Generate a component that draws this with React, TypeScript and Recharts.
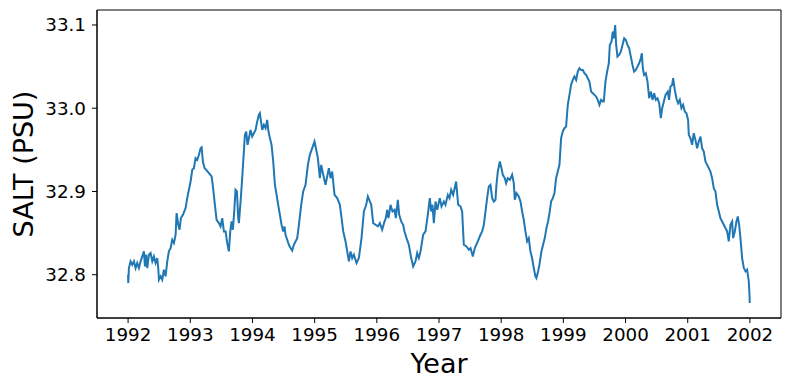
import { LineChart, Line, XAxis, YAxis, ReferenceArea } from "recharts";

// decimal year of each sample
const years = [
  1992.0, 1992.003, 1992.013, 1992.04, 1992.067, 1992.094, 1992.121, 1992.147, 1992.174, 1992.201,
  1992.228, 1992.255, 1992.271, 1992.292, 1992.308, 1992.335, 1992.362, 1992.389, 1992.415, 1992.442,
  1992.469, 1992.485, 1992.496, 1992.523, 1992.549, 1992.576, 1992.603, 1992.63, 1992.656, 1992.683,
  1992.71, 1992.737, 1992.764, 1992.78, 1992.807, 1992.828, 1992.849, 1992.882, 1992.924, 1992.951,
  1992.978, 1993.005, 1993.032, 1993.058, 1993.085, 1993.112, 1993.139, 1993.166, 1993.182, 1993.203,
  1993.23, 1993.257, 1993.3, 1993.343, 1993.364, 1993.396, 1993.423, 1993.46, 1993.487, 1993.514,
  1993.541, 1993.568, 1993.594, 1993.621, 1993.643, 1993.664, 1993.685, 1993.707, 1993.728, 1993.75,
  1993.771, 1993.782, 1993.809, 1993.835, 1993.862, 1993.878, 1993.9, 1993.921, 1993.943, 1993.969,
  1993.996, 1994.023, 1994.05, 1994.077, 1994.103, 1994.119, 1994.141, 1994.157, 1994.184, 1994.211,
  1994.237, 1994.254, 1994.275, 1994.307, 1994.334, 1994.361, 1994.388, 1994.414, 1994.441, 1994.468,
  1994.495, 1994.516, 1994.532, 1994.559, 1994.586, 1994.613, 1994.639, 1994.666, 1994.72, 1994.747,
  1994.784, 1994.816, 1994.854, 1994.891, 1994.923, 1994.961, 1994.998, 1995.031, 1995.052, 1995.084,
  1995.106, 1995.138, 1995.175, 1995.229, 1995.256, 1995.282, 1995.32, 1995.363, 1995.406, 1995.433,
  1995.46, 1995.497, 1995.524, 1995.551, 1995.577, 1995.604, 1995.631, 1995.674, 1995.711, 1995.754,
  1995.792, 1995.829, 1995.856, 1995.888, 1995.91, 1995.942, 1995.979, 1996.017, 1996.049, 1996.086,
  1996.124, 1996.145, 1996.167, 1996.188, 1996.22, 1996.252, 1996.285, 1996.306, 1996.338, 1996.36,
  1996.392, 1996.424, 1996.445, 1996.478, 1996.515, 1996.553, 1996.585, 1996.622, 1996.649, 1996.676,
  1996.703, 1996.745, 1996.783, 1996.82, 1996.852, 1996.874, 1996.895, 1996.917, 1996.944, 1996.971,
  1997.013, 1997.04, 1997.078, 1997.104, 1997.142, 1997.169, 1997.196, 1997.228, 1997.276, 1997.308,
  1997.346, 1997.372, 1997.399, 1997.442, 1997.48, 1997.507, 1997.544, 1997.576, 1997.624, 1997.667,
  1997.694, 1997.721, 1997.748, 1997.774, 1997.801, 1997.828, 1997.855, 1997.882, 1997.908, 1997.924,
  1997.946, 1997.978, 1998.005, 1998.026, 1998.058, 1998.08, 1998.106, 1998.139, 1998.176, 1998.203,
  1998.219, 1998.246, 1998.283, 1998.31, 1998.337, 1998.363, 1998.39, 1998.417, 1998.444, 1998.47,
  1998.497, 1998.524, 1998.551, 1998.567, 1998.594, 1998.615, 1998.647, 1998.674, 1998.701, 1998.728,
  1998.754, 1998.781, 1998.803, 1998.83, 1998.857, 1998.883, 1998.91, 1998.937, 1998.964, 1998.99,
  1999.017, 1999.044, 1999.071, 1999.098, 1999.124, 1999.151, 1999.178, 1999.205, 1999.232, 1999.258,
  1999.285, 1999.312, 1999.339, 1999.366, 1999.392, 1999.419, 1999.446, 1999.473, 1999.5, 1999.527,
  1999.553, 1999.58, 1999.607, 1999.634, 1999.65, 1999.677, 1999.704, 1999.731, 1999.747, 1999.774,
  1999.795, 1999.811, 1999.833, 1999.849, 1999.87, 1999.897, 1999.924, 1999.951, 1999.978, 2000.005,
  2000.031, 2000.058, 2000.085, 2000.112, 2000.138, 2000.165, 2000.192, 2000.219, 2000.246, 2000.262,
  2000.278, 2000.299, 2000.326, 2000.353, 2000.38, 2000.407, 2000.434, 2000.46, 2000.487, 2000.514,
  2000.541, 2000.568, 2000.589, 2000.616, 2000.643, 2000.679, 2000.7, 2000.722, 2000.749, 2000.765,
  2000.792, 2000.818, 2000.845, 2000.872, 2000.899, 2000.926, 2000.953, 2000.979, 2001.006, 2001.017,
  2001.044, 2001.071, 2001.097, 2001.124, 2001.151, 2001.178, 2001.205, 2001.231, 2001.258, 2001.285,
  2001.312, 2001.339, 2001.365, 2001.392, 2001.419, 2001.446, 2001.473, 2001.5, 2001.526, 2001.553,
  2001.58, 2001.607, 2001.634, 2001.66, 2001.687, 2001.714, 2001.73, 2001.757, 2001.784, 2001.805,
  2001.827, 2001.848, 2001.875, 2001.902, 2001.929, 2001.955, 2001.982, 2001.993, 2001.998,
];

// salinity in PSU at each of those dates
const salt = [
  32.8, 32.79, 32.808, 32.816, 32.812, 32.816, 32.808, 32.814, 32.808, 32.816,
  32.822, 32.828, 32.81, 32.824, 32.808, 32.824, 32.826, 32.816, 32.822, 32.814,
  32.82, 32.808, 32.794, 32.798, 32.794, 32.806, 32.798, 32.816, 32.828, 32.832,
  32.842, 32.838, 32.848, 32.874, 32.86, 32.854, 32.868, 32.872, 32.88, 32.892,
  32.902, 32.912, 32.926, 32.928, 32.94, 32.938, 32.944, 32.952, 32.953, 32.936,
  32.928, 32.926, 32.922, 32.918, 32.906, 32.884, 32.866, 32.862, 32.858, 32.868,
  32.852, 32.852, 32.838, 32.828, 32.852, 32.864, 32.854, 32.876, 32.902, 32.9,
  32.868, 32.862, 32.888, 32.916, 32.948, 32.968, 32.972, 32.956, 32.964, 32.974,
  32.966, 32.97, 32.974, 32.984, 32.992, 32.994, 32.982, 32.974, 32.98, 32.976,
  32.986, 32.974, 32.966, 32.956, 32.936, 32.908, 32.896, 32.884, 32.872, 32.86,
  32.852, 32.858, 32.848, 32.842, 32.836, 32.832, 32.829, 32.836, 32.844, 32.86,
  32.884, 32.9, 32.908, 32.932, 32.944, 32.952, 32.96, 32.948, 32.94, 32.916,
  32.932, 32.92, 32.908, 32.928, 32.916, 32.924, 32.896, 32.892, 32.884, 32.868,
  32.852, 32.84, 32.828, 32.816, 32.828, 32.82, 32.824, 32.814, 32.82, 32.844,
  32.876, 32.884, 32.894, 32.888, 32.884, 32.862, 32.86, 32.858, 32.862, 32.854,
  32.864, 32.868, 32.878, 32.868, 32.884, 32.876, 32.878, 32.868, 32.89, 32.872,
  32.864, 32.86, 32.852, 32.844, 32.836, 32.82, 32.81, 32.816, 32.826, 32.82,
  32.828, 32.848, 32.852, 32.872, 32.892, 32.876, 32.884, 32.862, 32.888, 32.878,
  32.892, 32.882, 32.888, 32.884, 32.896, 32.892, 32.902, 32.896, 32.912, 32.884,
  32.882, 32.876, 32.836, 32.834, 32.83, 32.832, 32.822, 32.832, 32.84, 32.848,
  32.852, 32.86, 32.876, 32.892, 32.906, 32.908, 32.892, 32.888, 32.89, 32.908,
  32.924, 32.936, 32.928, 32.92, 32.916, 32.91, 32.916, 32.914, 32.92, 32.91,
  32.89, 32.898, 32.894, 32.888, 32.876, 32.866, 32.852, 32.84, 32.844, 32.828,
  32.82, 32.808, 32.798, 32.796, 32.804, 32.812, 32.828, 32.836, 32.844, 32.856,
  32.864, 32.876, 32.888, 32.892, 32.898, 32.916, 32.924, 32.932, 32.964, 32.972,
  32.976, 32.978, 33.004, 33.016, 33.028, 33.034, 33.038, 33.034, 33.044, 33.048,
  33.046, 33.046, 33.042, 33.04, 33.036, 33.032, 33.02, 33.018, 33.016, 33.014,
  33.01, 33.004, 33.01, 33.008, 33.008, 33.032, 33.044, 33.054, 33.076, 33.08,
  33.092, 33.084, 33.1, 33.076, 33.062, 33.064, 33.068, 33.076, 33.084, 33.082,
  33.076, 33.072, 33.062, 33.052, 33.044, 33.046, 33.05, 33.054, 33.06, 33.066,
  33.048, 33.04, 33.042, 33.032, 33.012, 33.02, 33.01, 33.018, 33.01, 33.012,
  33.006, 32.988, 33.0, 33.008, 33.016, 33.02, 33.01, 33.026, 33.028, 33.036,
  33.022, 33.012, 33.006, 33.01, 33.0, 33.004, 32.996, 32.994, 32.986, 32.968,
  32.964, 32.956, 32.97, 32.962, 32.952, 32.96, 32.966, 32.952, 32.948, 32.936,
  32.932, 32.928, 32.924, 32.916, 32.904, 32.9, 32.884, 32.876, 32.868, 32.864,
  32.86, 32.856, 32.852, 32.84, 32.86, 32.864, 32.844, 32.852, 32.864, 32.87,
  32.86, 32.844, 32.82, 32.808, 32.804, 32.806, 32.792, 32.776, 32.766,
];

const yearTicks = [1992, 1993, 1994, 1995, 1996, 1997, 1998, 1999, 2000, 2001, 2002];
const saltTicks = [32.8, 32.9, 33.0, 33.1];

const data = years.map((year, i) => ({ year, salt: salt[i] }));

const FONT = "DejaVu Sans, sans-serif";

export default function App() {
  return (
    <div style={{ position: "absolute", left: 0, top: 0, width: 789, height: 390, background: "#fff" }}>
      <LineChart width={789} height={390} data={data} margin={{ top: 10, right: 8, left: 0, bottom: 0 }}>
        <XAxis
          dataKey="year"
          type="number"
          domain={[1991.5, 2002.5]}
          ticks={yearTicks}
          allowDataOverflow
          height={72}
          stroke="#000"
          tickSize={5}
          tickMargin={5}
          tick={{ fill: "#000", fontSize: 18.3, fontFamily: FONT }}
          label={(props: any) => {
            const vb = props.viewBox;
            return (
              <text x={vb.x + vb.width / 2} y={vb.y + 55} textAnchor="middle" fontSize={27} fontFamily={FONT} fill="#000">
                Year
              </text>
            );
          }}
        />
        <YAxis
          type="number"
          domain={[32.748, 33.118]}
          ticks={saltTicks}
          allowDataOverflow
          width={97}
          stroke="#000"
          tickSize={5}
          tickMargin={6}
          tickFormatter={(v: number) => v.toFixed(1)}
          tick={{ fill: "#000", fontSize: 18.3, fontFamily: FONT }}
          label={(props: any) => {
            const vb = props.viewBox;
            const cy = vb.y + vb.height / 2;
            return (
              <text x={33} y={cy} transform={`rotate(-90 33 ${cy})`} textAnchor="middle" fontSize={27} fontFamily={FONT} fill="#000">
                SALT (PSU)
              </text>
            );
          }}
        />
        <ReferenceArea x1={1991.5} x2={2002.5} y1={32.748} y2={33.118} fill="none" fillOpacity={0} stroke="#000" strokeWidth={1} />
        <Line
          type="linear"
          dataKey="salt"
          stroke="#1f77b4"
          strokeWidth={2}
          dot={false}
          isAnimationActive={false}
        />
      </LineChart>
    </div>
  );
}
